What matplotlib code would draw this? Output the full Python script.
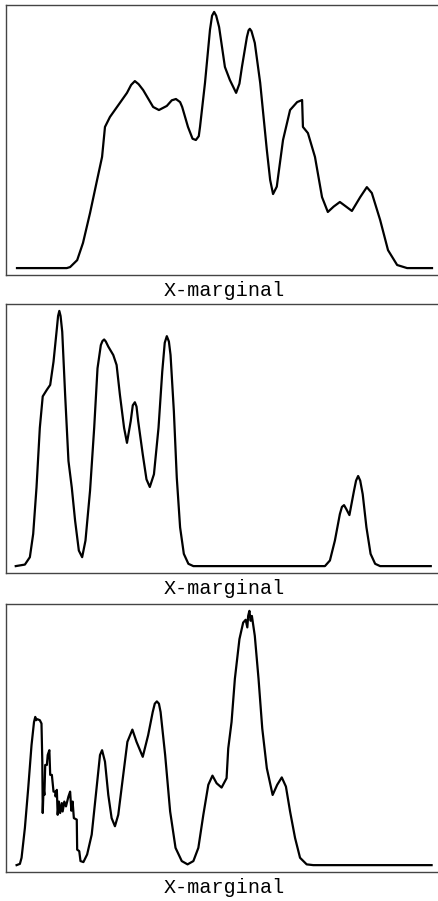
import matplotlib
matplotlib.use("Agg")
import matplotlib.pyplot as plt

# Marginal densities (x on a 0-100 grid, height normalised to the peak)
x_top = [0, 12.0, 12.8, 14.5, 15.9, 17.6, 19.3, 20.5, 21.2, 22.4, 24.8, 26.5, 27.5, 28.4, 29.3,
         30.4, 32.8, 34.2, 36.1, 37.3, 38.3, 39.3, 39.8, 41.2, 42.3, 43.1, 43.8, 44.1, 45.3, 46.5,
         47.0, 47.5, 48.0, 48.7, 50.1, 51.3, 52.8, 53.6, 54.2, 55.4, 55.8, 56.1, 56.5, 57.3, 58.6,
         60.2, 61.0, 61.7, 62.6, 62.9, 64.1, 65.8, 67.5, 68.7, 68.9, 70.1, 71.8, 73.5, 74.9, 76.3,
         77.8, 79.3, 80.7, 82.7, 84.3, 85.5, 87.5, 89.4, 91.6, 94.0, 100]
y_top = [0, 0, 0.004, 0.031, 0.098, 0.215, 0.344, 0.434, 0.551, 0.590, 0.645, 0.684, 0.715, 0.730,
         0.718, 0.695, 0.629, 0.617, 0.633, 0.655, 0.660, 0.648, 0.629, 0.551, 0.505, 0.500, 0.515,
         0.551, 0.723, 0.930, 0.985, 1.0, 0.985, 0.941, 0.785, 0.734, 0.684, 0.720, 0.785, 0.902,
         0.928, 0.934, 0.925, 0.879, 0.723, 0.461, 0.344, 0.289, 0.318, 0.355, 0.500, 0.617, 0.648,
         0.656, 0.551, 0.527, 0.434, 0.277, 0.219, 0.240, 0.258, 0.240, 0.223, 0.277, 0.316, 0.293,
         0.188, 0.070, 0.012, 0, 0]

x_mid = [-0.3, 1.9, 3.1, 3.9, 4.7, 5.5, 6.2, 7.2, 8.0, 8.8, 9.6, 9.9, 10.2, 10.5, 10.9, 11.6, 12.4,
         13.2, 14.0, 14.9, 15.7, 16.5, 17.6, 18.6, 19.4, 20.2, 20.6, 21.0, 21.4, 22.0, 23.2, 24.0,
         24.8, 25.8, 26.5, 27.4, 27.9, 28.4, 28.8, 29.2, 30.3, 31.2, 32.0, 33.0, 34.1, 35.0, 35.6,
         36.1, 36.6, 37.0, 37.8, 38.5, 39.3, 40.2, 41.3, 42.5, 74.2, 75.4, 76.6, 77.8, 78.3, 78.8,
         79.3, 80.1, 81.2, 81.7, 82.2, 82.7, 83.3, 84.2, 85.2, 86.3, 87.5, 99.7]
y_mid = [0, 0.006, 0.035, 0.126, 0.308, 0.542, 0.665, 0.691, 0.710, 0.801, 0.930, 0.980, 1.0, 0.980,
         0.918, 0.671, 0.412, 0.308, 0.178, 0.061, 0.035, 0.100, 0.295, 0.542, 0.775, 0.866, 0.882,
         0.888, 0.880, 0.860, 0.827, 0.788, 0.671, 0.542, 0.483, 0.568, 0.630, 0.642, 0.625, 0.568,
         0.438, 0.340, 0.310, 0.360, 0.542, 0.762, 0.875, 0.901, 0.880, 0.827, 0.606, 0.347, 0.152,
         0.048, 0.009, 0, 0, 0.022, 0.100, 0.204, 0.232, 0.239, 0.225, 0.200, 0.295, 0.335, 0.353,
         0.335, 0.282, 0.152, 0.048, 0.009, 0, 0]

x_bot = [-0.1, 0.7, 1.1, 1.9, 2.7, 3.5, 4.1, 4.4, 4.6, 4.9, 5.5, 5.9, 6.1, 6.2, 6.4, 6.6, 6.8, 7.2,
         7.4, 7.8, 8.0, 8.4, 8.8, 9.2, 9.3, 9.6, 9.8, 10.1, 10.4, 10.8, 11.0, 11.4, 11.8, 12.4, 12.8,
         13.1, 13.4, 13.7, 14.4, 14.5, 15.0, 15.3, 16.0, 16.9, 18.0, 19.0, 20.0, 20.5, 21.2, 22.0,
         22.8, 23.6, 24.4, 25.5, 26.6, 27.8, 28.8, 30.3, 31.6, 32.7, 33.2, 33.7, 34.2, 34.6, 35.7,
         36.9, 38.2, 39.7, 41.1, 42.5, 43.7, 44.9, 46.1, 47.1, 48.1, 49.3, 50.5, 50.9, 51.7, 52.5,
         53.6, 54.5, 55.1, 55.5, 55.7, 56.0, 56.3, 56.6, 57.3, 58.2, 59.1, 60.2, 61.6, 62.7, 63.8,
         64.8, 65.8, 67.0, 68.2, 69.8, 71.4, 99.9]
y_bot = [0, 0.005, 0.029, 0.146, 0.302, 0.472, 0.563, 0.583, 0.570, 0.574, 0.570, 0.557, 0.407,
         0.205, 0.302, 0.276, 0.394, 0.394, 0.433, 0.452, 0.355, 0.355, 0.289, 0.289, 0.270, 0.296,
         0.198, 0.250, 0.205, 0.244, 0.211, 0.250, 0.231, 0.270, 0.289, 0.214, 0.250, 0.185, 0.179,
         0.061, 0.055, 0.016, 0.012, 0.042, 0.120, 0.276, 0.433, 0.452, 0.407, 0.276, 0.185, 0.153,
         0.198, 0.342, 0.485, 0.533, 0.485, 0.426, 0.511, 0.602, 0.635, 0.644, 0.635, 0.602, 0.433,
         0.211, 0.068, 0.016, 0.003, 0.016, 0.068, 0.198, 0.316, 0.352, 0.322, 0.305, 0.342, 0.459,
         0.563, 0.733, 0.889, 0.954, 0.965, 0.935, 0.980, 1.0, 0.961, 0.980, 0.902, 0.733, 0.537,
         0.381, 0.276, 0.316, 0.345, 0.309, 0.211, 0.107, 0.029, 0.003, 0, 0]

curves = [(x_top, y_top), (x_mid, y_mid), (x_bot, y_bot)]
label = "X-marginal"

W, H = 439, 901
fig = plt.figure(figsize=(W / 100, H / 100), dpi=100)

# axes boxes in pixels: (top, bottom); the right edge runs past the figure
boxes = [(5, 275), (304, 573), (604, 872)]
left_px, width_px = 6, 437

for (xs, ys), (top, bottom) in zip(curves, boxes):
    ax = fig.add_axes([left_px / W, (H - bottom) / H, width_px / W, (bottom - top) / H])
    ax.plot(xs, ys, color="black", lw=1.6, solid_joinstyle="round")
    ax.set_xlim(-2.65, 102.65)
    ax.set_ylim(-0.027, 1.027)
    ax.set_xticks([])
    ax.set_yticks([])
    for sp in ax.spines.values():
        sp.set_color("#444444")
        sp.set_linewidth(1.0)
    ax.set_xlabel(label, family="Liberation Mono", fontsize=14.5, labelpad=4)

fig.savefig("out.png", dpi=100)
